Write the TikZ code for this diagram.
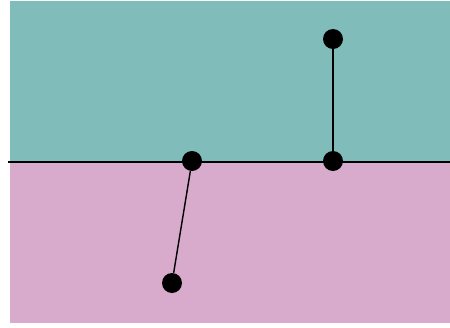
\documentclass[tikz,border=0pt]{standalone}
\usepackage{tikz}

\definecolor{upper}{RGB}{127,188,186}
\definecolor{lower}{RGB}{216,170,204}

\begin{document}
\begin{tikzpicture}[scale=1,
  pnt/.style={circle,fill=black,inner sep=0pt,minimum size=0.4cm}]

\useasboundingbox (0,0) rectangle (9,6.54);

% Media
\fill[upper] (0.2,3.3) rectangle (9,6.52);
\fill[lower] (0.2,0.08) rectangle (9,3.3);

% Interface
\coordinate (left) at (0.16,3.3);
\coordinate (right) at (9,3.3);
\draw[line width=1.1pt] (left) -- (right);

% Points
\node[pnt] (a) at (3.84,3.32) {};
\node[pnt] (b) at (6.66,3.32) {};
\node[pnt] (c) at (6.66,5.76) {};
\node[pnt] (d) at (3.44,0.88) {};

% Segments
\draw[line width=0.8pt] (a) -- (d);
\draw[line width=0.8pt] (b) -- (c);

\end{tikzpicture}
\end{document}
